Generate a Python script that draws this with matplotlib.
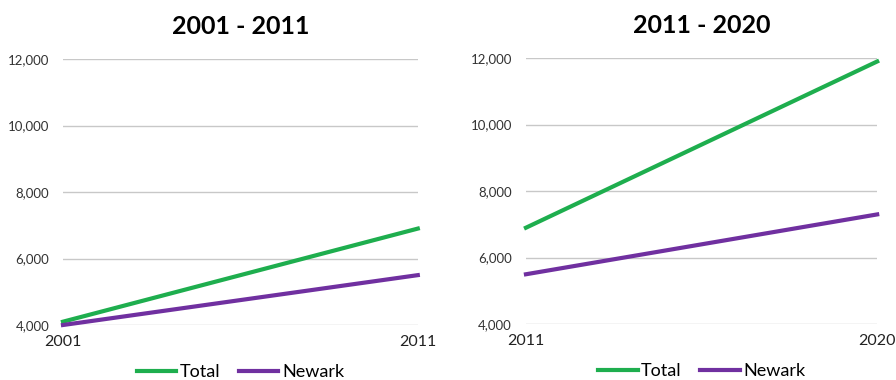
import matplotlib
matplotlib.use('Agg')
from matplotlib import pyplot as plt
from matplotlib.ticker import FuncFormatter

# population by period
TITLES = ['2001 - 2011', '2011 - 2020']
YEARS = [[2001, 2011], [2011, 2020]]
TOTAL = [[4100, 6900], [6900, 11900]]
NEWARK = [[4000, 5500], [5500, 7300]]

GREEN = '#1eae4e'
PURPLE = '#7030a0'

plt.rcParams['font.family'] = ['Lato', 'DejaVu Sans']

fig = plt.figure(figsize=(8.96, 3.8), dpi=100)
axes = [fig.add_axes([0.0703, 0.1447, 0.396, 0.70]),
        fig.add_axes([0.587, 0.147, 0.392, 0.70])]

for ax, title, yrs, tot, nwk in zip(axes, TITLES, YEARS, TOTAL, NEWARK):
    ax.plot(yrs, tot, color=GREEN, lw=3, label='Total', clip_on=False, zorder=3)
    ax.plot(yrs, nwk, color=PURPLE, lw=3, label='Newark', clip_on=False, zorder=3)
    ax.set_xlim(yrs[0], yrs[1])
    ax.set_ylim(4000, 12000)
    ax.set_yticks(range(4000, 12001, 2000))
    ax.yaxis.set_major_formatter(FuncFormatter(lambda v, p: f'{int(v):,}'))
    ax.set_xticks(yrs)
    ax.grid(axis='y', color='#c8c8c8', lw=1)
    ax.set_axisbelow(True)
    for s in ax.spines.values():
        s.set_visible(False)
    ax.tick_params(axis='y', length=0, pad=10, labelsize=9.5, labelcolor='#333333')
    ax.tick_params(axis='x', length=0, pad=7, labelsize=11.5, labelcolor='#222222')
    ax.set_title(title, fontsize=18, fontweight='bold', pad=18)
    ax.legend(loc='upper center', bbox_to_anchor=(0.5, -0.085), ncol=2, frameon=False,
              fontsize=13, handlelength=2.2, handletextpad=0.2, columnspacing=1.0)

fig.savefig('out.png', dpi=100)
